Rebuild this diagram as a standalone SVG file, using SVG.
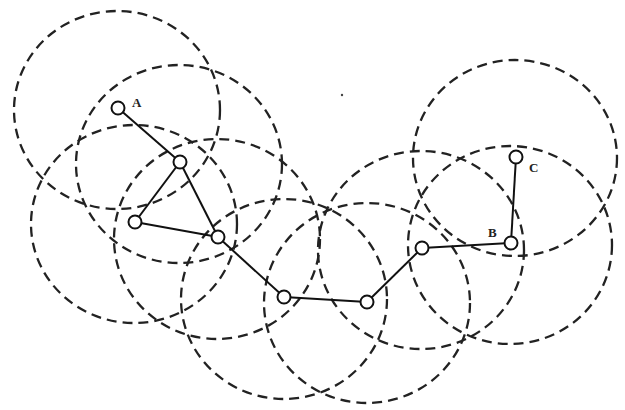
<svg xmlns="http://www.w3.org/2000/svg" width="625" height="410" viewBox="0 0 625 410">
<style>
.range{fill:none;stroke:#222;stroke-width:2.3;stroke-dasharray:10 6}
.edge{stroke:#111;stroke-width:2;fill:none}
.node{fill:#fff;stroke:#111;stroke-width:2}
.lbl{font-family:"Liberation Serif",serif;font-size:13px;font-weight:bold;fill:#222}
</style>
<rect width="625" height="410" fill="#fff"/>
<g id="ranges">
<ellipse class="range" cx="117" cy="110" rx="103" ry="99"/>
<ellipse class="range" cx="179" cy="164" rx="103" ry="99"/>
<ellipse class="range" cx="134" cy="224" rx="103" ry="99"/>
<ellipse class="range" cx="217" cy="239" rx="103" ry="100"/>
<ellipse class="range" cx="284" cy="299" rx="103" ry="100"/>
<ellipse class="range" cx="367" cy="303" rx="103" ry="100"/>
<ellipse class="range" cx="421" cy="250" rx="103" ry="99"/>
<ellipse class="range" cx="510" cy="245" rx="102" ry="99"/>
<ellipse class="range" cx="515" cy="158" rx="102" ry="98"/>
</g>
<g id="connectors">
<line class="edge" x1="118" y1="108" x2="180" y2="162"/>
<line class="edge" x1="180" y1="162" x2="135" y2="222"/>
<line class="edge" x1="180" y1="162" x2="218" y2="237"/>
<line class="edge" x1="135" y1="222" x2="218" y2="237"/>
<line class="edge" x1="218" y1="237" x2="284" y2="297"/>
<line class="edge" x1="284" y1="297" x2="367" y2="302"/>
<line class="edge" x1="367" y1="302" x2="422" y2="248"/>
<line class="edge" x1="422" y1="248" x2="511" y2="243"/>
<line class="edge" x1="511" y1="243" x2="516" y2="157"/>
</g>
<g id="A"><circle class="node" cx="118" cy="108" r="6.5"/><text class="lbl" x="132" y="107">A</text></g>
<g id="n2"><circle class="node" cx="180" cy="162" r="6.5"/></g>
<g id="n3"><circle class="node" cx="135" cy="222" r="6.5"/></g>
<g id="n4"><circle class="node" cx="218" cy="237" r="6.5"/></g>
<g id="n5"><circle class="node" cx="284" cy="297" r="6.5"/></g>
<g id="n6"><circle class="node" cx="367" cy="302" r="6.5"/></g>
<g id="n7"><circle class="node" cx="422" cy="248" r="6.5"/></g>
<g id="B"><circle class="node" cx="511" cy="243" r="6.5"/><text class="lbl" x="488" y="237">B</text></g>
<g id="C"><circle class="node" cx="516" cy="157" r="6.5"/><text class="lbl" x="529" y="172">C</text></g>
<circle cx="342" cy="95" r="1.2" fill="#444"/>
</svg>
